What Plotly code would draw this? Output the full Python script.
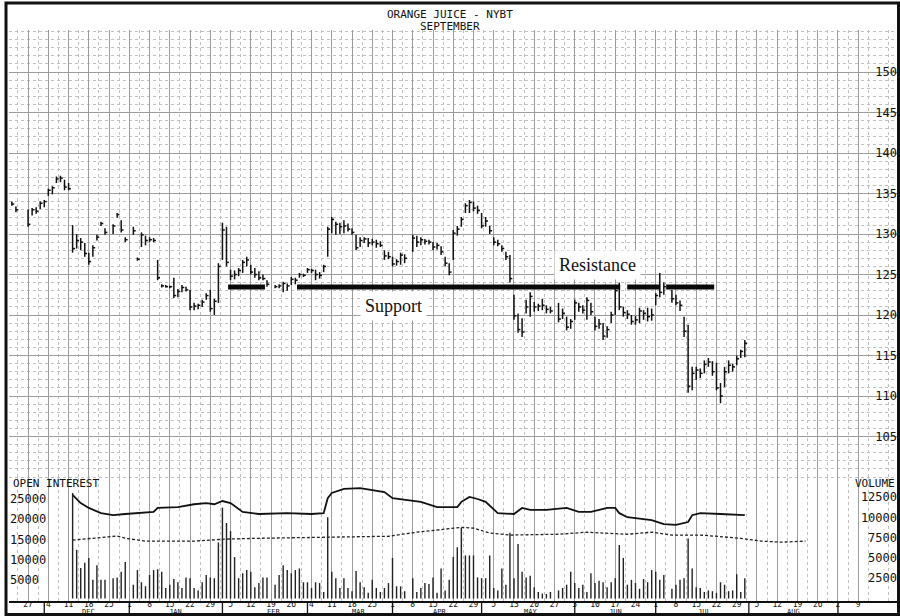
import pandas as pd
import plotly.graph_objects as go

# ---------------- data ----------------
week_starts = ["1995-11-20", "1995-11-27", "1995-12-04", "1995-12-11", "1995-12-18", "1995-12-25",
               "1996-01-01", "1996-01-08", "1996-01-15", "1996-01-22", "1996-01-29", "1996-02-05",
               "1996-02-12", "1996-02-19", "1996-02-26", "1996-03-04", "1996-03-11", "1996-03-18",
               "1996-03-25", "1996-04-01", "1996-04-08", "1996-04-15", "1996-04-22", "1996-04-29",
               "1996-05-06", "1996-05-13", "1996-05-20", "1996-05-27", "1996-06-03", "1996-06-10",
               "1996-06-17", "1996-06-24", "1996-07-01", "1996-07-08", "1996-07-15", "1996-07-22",
               "1996-07-29"]

# daily high / low / close, one row per week (Mon..Fri), None = no bar
price_high = [
    [None, 134.0, 133.4, None, None], [133.0, 133.2, 133.3, 134.0, 134.2], [135.6, 135.9, 137.1, 137.2, 136.7],
    [136.3, 131.1, 130.0, 129.5, 128.9], [127.7, 128.6, 129.9, 131.5, 130.7], [None, 131.2, 132.6, 131.7, 129.6],
    [None, 130.9, 127.1, 130.2, 129.8], [129.6, 129.5, 126.8, 123.8, 123.7], [123.6, 124.6, 123.2, 123.7, 123.5],
    [123.1, 121.5, 121.4, 121.9, 122.7], [123.1, 122.0, 126.4, 131.4, 130.9], [125.6, 125.5, 125.8, 126.8, 127.2],
    [126.2, 125.8, 125.4, 125.0, 124.3], [None, 123.7, 123.8, 124.1, 123.9], [124.7, 124.6, 125.2, 125.1, 125.8],
    [125.7, 125.6, 125.3, 126.2, 130.9], [132.1, 131.5, 131.4, 131.7, 131.3], [130.7, 129.9, 129.6, 129.6, 129.5],
    [129.4, 129.3, 129.1, 128.0, 127.8], [127.2, 126.9, 127.7, 127.5, None], [129.9, 129.8, 129.6, 129.4, 129.3],
    [129.0, 128.9, 128.5, 127.2, 126.4], [130.5, 131.0, 132.1, 133.8, 134.2], [134.0, 133.5, 132.6, 132.1, 131.0],
    [129.6, 129.3, 128.6, 127.8, 127.4], [122.5, 120.2, 119.6, 121.9, 122.8], [121.6, 121.4, 122.0, 121.2, 121.0],
    [None, 121.5, 120.8, 119.8, 119.5], [121.9, 121.5, 121.2, 122.2, 121.5], [119.8, 119.5, 119.0, 118.6, 120.4],
    [123.5, 124.0, 121.0, 120.6, 120.0], [119.9, 120.9, 120.6, 120.9, 120.8], [122.7, 125.2, 124.0, None, 123.1],
    [122.5, 121.8, 119.8, 118.8, 113.6], [113.6, 113.4, 114.4, 114.7, 114.3], [114.1, 111.6, 113.6, 114.4, 114.0],
    [115.0, 115.7, 116.9, None, None]]
price_low = [
    [None, 133.5, 132.7, None, None], [130.9, 132.3, 132.5, 133.1, 133.3], [134.7, 134.9, 136.3, 136.4, 135.4],
    [135.4, 127.7, 128.2, 128.0, 127.2], [126.2, 127.2, 129.2, 131.0, 129.9], [None, 130.0, 132.0, 130.2, 129.0],
    [None, 129.9, 126.7, 128.4, 128.6], [129.0, 129.0, 124.3, 123.4, 123.4], [123.3, 122.1, 122.2, 122.8, 122.9],
    [120.6, 120.6, 120.7, 121.0, 121.9], [120.4, 120.0, 121.5, 126.8, 126.0], [124.3, 124.4, 124.8, 125.2, 126.0],
    [125.0, 124.6, 124.3, 124.3, 123.5], [None, 123.3, 123.3, 122.8, 123.0], [123.7, 123.8, 124.6, 124.7, 125.2],
    [125.2, 124.3, 124.5, 125.3, 127.2], [130.1, 129.9, 130.0, 130.1, 130.3], [129.9, 128.0, 128.4, 128.9, 128.4],
    [128.6, 128.3, 128.4, 126.8, 126.9], [126.0, 126.1, 126.2, 126.4, None], [127.8, 128.4, 128.6, 128.7, 128.7],
    [128.0, 128.1, 127.4, 126.0, 124.9], [126.8, 129.8, 130.9, 132.6, 132.6], [132.8, 132.5, 130.7, 130.9, 130.0],
    [128.6, 128.5, 127.8, 126.8, 124.0], [119.4, 117.8, 117.3, 120.2, 119.8], [120.4, 120.5, 120.6, 120.2, 120.2],
    [None, 119.1, 119.5, 118.1, 118.3], [119.4, 120.4, 120.2, 119.4, 120.0], [118.1, 118.3, 116.9, 117.2, 119.0],
    [120.0, 120.6, 119.8, 119.5, 118.8], [118.8, 119.0, 119.4, 119.2, 119.3], [121.2, 122.2, 122.5, None, 121.5],
    [121.2, 120.5, 117.3, 110.4, 110.7], [112.0, 112.2, 112.8, 113.6, 112.5], [110.7, 109.1, 111.1, 112.8, 113.0],
    [113.8, 114.7, 114.8, None, None]]
price_close = [
    [None, 133.7, 133.0, None, None], [131.2, 133.0, 132.8, 133.8, 134.0], [135.4, 135.7, 136.8, 136.9, 135.8],
    [135.6, 128.2, 129.2, 129.0, 127.6], [126.6, 128.3, 129.6, 131.3, 130.2], [None, 131.0, 132.4, 130.5, 129.3],
    [None, 130.4, 126.9, 129.9, 129.2], [129.3, 129.2, 124.6, 123.6, 123.5], [123.5, 122.4, 122.9, 123.4, 123.1],
    [121.0, 121.1, 121.2, 121.6, 122.4], [120.8, 121.7, 126.0, 130.5, 126.5], [124.8, 125.0, 125.5, 126.5, 126.8],
    [125.3, 125.0, 124.6, 124.5, 123.8], [None, 123.5, 123.6, 123.9, 123.6], [124.4, 124.3, 125.0, 124.9, 125.6],
    [125.5, 125.0, 124.9, 126.0, 130.6], [131.8, 131.2, 130.9, 131.0, 130.6], [130.2, 128.3, 129.2, 129.4, 128.9],
    [129.0, 128.8, 128.6, 127.3, 127.2], [126.3, 126.6, 127.4, 127.0, None], [129.5, 129.0, 129.3, 129.1, 129.0],
    [128.4, 128.6, 127.8, 126.4, 125.3], [130.1, 130.6, 131.8, 133.5, 133.9], [133.2, 132.9, 131.0, 131.6, 130.4],
    [129.0, 128.8, 128.2, 127.2, 124.5], [119.9, 118.2, 117.9, 121.0, 122.3], [121.0, 121.1, 121.2, 120.7, 120.5],
    [None, 119.5, 120.2, 118.5, 119.2], [121.5, 121.0, 120.6, 121.8, 120.4], [118.6, 118.9, 117.4, 118.2, 120.0],
    [123.0, 121.0, 120.3, 120.1, 119.2], [119.4, 120.5, 120.2, 119.8, 120.0], [122.4, 122.8, 123.5, None, 122.0],
    [121.5, 121.2, 118.0, 111.2, 112.8], [113.2, 112.8, 113.9, 114.2, 113.0], [111.0, 110.0, 113.0, 113.8, 113.6],
    [114.6, 115.5, 116.5, None, None]]

volume = [
    [None] * 5, [None] * 5, [None] * 5,
    [None, 13000, 6000, 3750, 4400], [5000, 2300, 4100, 2300, 2300], [None, 2500, 2600, 3300, 4500],
    [None, 1700, 3500, 2000, 1500], [2900, 3500, 3600, 3300, 1300], [1700, 2400, 2000, 1300, 2600],
    [2500, 1300, 1000, 2000, 2900], [2600, 2500, 6900, 11200, 9300], [8300, 5100, 2500, 3100, 3500],
    [3300, 1400, 1900, 2600, 2600], [None, 1700, 2900, 4100, 3500], [3100, 3500, 3700, 2000, 2000],
    [1300, 2000, 1900, 800, 10000], [3300, 2500, 1300, 2500, 1300], [900, 3400, 2000, 1400, 700],
    [2300, 1300, 800, 1300, 1900], [5000, 1500, 1500, 900, None], [2500, 800, 1300, 1900, 1800],
    [2600, 700, 3700, 1000, 2300], [5100, 6300, 8700, 5300, 5300], [5300, 2600, 2500, 2500, 5300],
    [1300, 1000, 3700, 1700, 8100], [2500, 6700, 3300, 2600, 2800], [1400, 800, 600, 550, 800],
    [None, 1000, 1300, 1700, 3300], [1900, 1300, 1700, 800, 3100], [1900, 2200, 2000, 1400, 2000],
    [2500, 6600, 5000, 1700, 2300], [1900, 1200, 2400, 2000, 3500], [3300, 2300, 2900, None, 1200],
    [1700, 2300, 2500, 7400, 3700], [1400, 1300, 800, 1000, 900], [700, 2000, 1700, 900, 1000],
    [3000, 800, 2500, None, None]]

oi_dates = ["1995-12-12", "1995-12-14", "1995-12-18", "1995-12-21", "1995-12-26", "1995-12-29", "1996-01-09",
            "1996-01-10", "1996-01-17", "1996-01-23", "1996-01-26", "1996-01-30", "1996-02-01", "1996-02-05",
            "1996-02-08", "1996-02-14", "1996-02-23", "1996-03-04", "1996-03-07", "1996-03-08", "1996-03-11",
            "1996-03-14", "1996-03-20", "1996-03-25", "1996-03-28", "1996-04-01", "1996-04-04", "1996-04-10",
            "1996-04-16", "1996-04-23", "1996-04-24", "1996-04-26", "1996-04-30", "1996-05-02", "1996-05-07",
            "1996-05-13", "1996-05-15", "1996-05-17", "1996-05-23", "1996-05-30", "1996-06-04", "1996-06-07",
            "1996-06-13", "1996-06-17", "1996-06-18", "1996-06-20", "1996-06-28", "1996-07-03", "1996-07-08",
            "1996-07-11", "1996-07-12", "1996-07-16", "1996-07-23", "1996-07-31"]
oi_values = [26000, 24000, 22800, 21500, 21000, 21300, 21800, 22800, 23000, 23700, 24000, 23700, 24500, 24000,
             21800, 21300, 21500, 21300, 21500, 25200, 26500, 27500, 27700, 27200, 26700, 25200, 24750, 24300,
             23000, 23000, 24300, 25500, 25000, 24300, 21500, 21300, 22800, 22300, 22300, 22800, 21800, 21800,
             22800, 22800, 21500, 20500, 19800, 18800, 18600, 19300, 21000, 21500, 21300, 21000]

dash_dates = ["1995-12-12", "1995-12-19", "1995-12-27", "1995-12-29", "1996-01-05", "1996-01-23", "1996-02-02",
              "1996-02-14", "1996-03-07", "1996-03-15", "1996-03-29", "1996-04-09", "1996-04-16", "1996-04-24",
              "1996-04-29", "1996-05-03", "1996-05-10", "1996-05-28", "1996-06-06", "1996-06-20", "1996-06-28",
              "1996-07-05", "1996-07-16", "1996-07-30", "1996-08-06", "1996-08-13", "1996-08-21"]
dash_values = [14850, 15300, 15850, 15300, 14600, 14600, 15100, 15300, 15600, 15600, 15800, 16800, 17300, 18000,
               17800, 16600, 16100, 16300, 16800, 16300, 16800, 16100, 16100, 15300, 14600, 14350, 14600]

# hand-drawn support / resistance line
sr_level = 123.45
sr_starts = ["1996-02-02 09:30", "1996-02-27 10:00", "1996-06-19 23:00", "1996-07-03 14:00"]
sr_ends = ["1996-02-15 12:00", "1996-06-18 05:30", "1996-07-02 02:00", "1996-07-19 10:30"]

x_tick_dates = ["1995-11-27", "1995-12-04", "1995-12-11", "1995-12-18", "1995-12-25", "1996-01-01", "1996-01-08",
                "1996-01-15", "1996-01-22", "1996-01-29", "1996-02-05", "1996-02-12", "1996-02-19", "1996-02-26",
                "1996-03-04", "1996-03-11", "1996-03-18", "1996-03-25", "1996-04-01", "1996-04-08", "1996-04-15",
                "1996-04-22", "1996-04-29", "1996-05-06", "1996-05-13", "1996-05-20", "1996-05-27", "1996-06-03",
                "1996-06-10", "1996-06-17", "1996-06-24", "1996-07-01", "1996-07-08", "1996-07-15", "1996-07-22",
                "1996-07-29", "1996-08-05", "1996-08-12", "1996-08-19", "1996-08-26", "1996-09-02", "1996-09-09"]
x_tick_text = ["27", "4", "11", "18", "25", "1", "8", "15", "22", "29", "5", "12", "19", "26", "4", "11", "18",
               "25", "1", "8", "15", "22", "29", "5", "13", "20", "27", "3", "10", "17", "24", "1", "8", "15",
               "22", "29", "5", "12", "19", "26", "2", "9"]
month_names = ["DEC", "JAN", "FEB", "MAR", "APR", "MAY", "JUN", "JUL", "AUG"]
month_label_dates = ["1995-12-18", "1996-01-16 12:00", "1996-02-19 12:00", "1996-03-19 12:00",
                     "1996-04-16 12:00", "1996-05-17", "1996-06-17", "1996-07-17", "1996-08-16"]
month_starts = ["1995-12-01", "1996-01-01", "1996-02-01", "1996-03-01", "1996-04-01", "1996-05-01",
                "1996-06-03", "1996-07-01", "1996-08-01", "1996-09-02"]

price_ticks = [105, 110, 115, 120, 125, 130, 135, 140, 145, 150]
oi_ticks = [5000, 10000, 15000, 20000, 25000]
vol_ticks = [2500, 5000, 7500, 10000, 12500]

# ---------------- build marks ----------------
MONO = "DejaVu Sans Mono"
bx, by = [], []
vx, vy = [], []
for w, ws in enumerate(week_starts):
    for i in range(5):
        d = pd.Timestamp(ws) + pd.Timedelta(days=i)
        h = price_high[w][i]
        if h is not None:
            bx += [d, d, None, d, d + pd.Timedelta(hours=14), None]
            by += [price_low[w][i], h, None, price_close[w][i], price_close[w][i], None]
        v = volume[w][i]
        if v is not None:
            vx += [d, d, None]
            vy += [0, v, None]

sx, sy = [], []
for s, e in zip(sr_starts, sr_ends):
    sx += [s, e, None]
    sy += [sr_level, sr_level, None]

fig = go.Figure()
fig.add_trace(go.Scatter(x=bx, y=by, mode="lines", line=dict(color="#111", width=1.5),
                         hoverinfo="skip", showlegend=False, yaxis="y"))
fig.add_trace(go.Scatter(x=sx, y=sy, mode="lines", line=dict(color="#0a0a0a", width=5),
                         hoverinfo="skip", showlegend=False, yaxis="y"))
fig.add_trace(go.Scatter(x=vx, y=vy, mode="lines", line=dict(color="#222", width=1.4),
                         hoverinfo="skip", showlegend=False, yaxis="y3"))
fig.add_trace(go.Scatter(x=oi_dates, y=oi_values, mode="lines", line=dict(color="#111", width=1.8),
                         showlegend=False, yaxis="y2"))
fig.add_trace(go.Scatter(x=dash_dates, y=dash_values, mode="lines",
                         line=dict(color="#222", width=1.3, dash="3px,2px"), showlegend=False, yaxis="y2"))

minor_x = [d + pd.Timedelta(hours=60) for d in pd.date_range("1995-11-13", "1996-09-16", freq="W-MON")]

GRID = "#9c9c9c"
MINOR = "#c0c0c0"
LOWER_TOP = (601 - 478) / 571
LABEL_FONT = dict(family=MONO, size=12, color="#111")
HEAD_FONT = dict(family=MONO, size=11, color="#111")

fig.update_layout(
    width=900, height=616,
    margin=dict(l=9, r=3, t=30, b=15),
    paper_bgcolor="white", plot_bgcolor="white",
    showlegend=False,
    font=dict(family=MONO, color="#111"),
    xaxis=dict(
        type="date",
        range=["1995-11-20 07:00", "1996-09-20 14:00"],
        rangebreaks=[dict(bounds=["sat", "mon"])],
        tickmode="array", tickvals=x_tick_dates, ticktext=x_tick_text,
        tickfont=dict(family=MONO, size=8, color="#111"),
        ticklabelstandoff=-5,
        ticks="", showline=True, linecolor="#111", linewidth=1.5,
        showgrid=True, gridcolor=GRID, gridwidth=1,
        minor=dict(tickmode="array", tickvals=minor_x, showgrid=True, gridcolor=MINOR, griddash="dot"),
        zeroline=False, fixedrange=True,
    ),
    # price scale: labels drawn just left of the right frame
    yaxis=dict(
        domain=[0, 1], range=[84.69, 155.19], side="left", anchor="free", position=1,
        tickmode="array", tickvals=price_ticks, ticktext=[str(v) for v in price_ticks],
        tickfont=LABEL_FONT, ticks="",
        showgrid=True, gridcolor=GRID, gridwidth=1,
        minor=dict(dtick=1, showgrid=True, gridcolor=MINOR, griddash="dot"),
        zeroline=False, showline=False,
    ),
    # open interest scale: labels just right of the left frame
    yaxis2=dict(
        domain=[0, LOWER_TOP], range=[-185, 30184], side="right", anchor="free", position=0,
        tickmode="array", tickvals=oi_ticks, ticktext=[str(v) for v in oi_ticks],
        tickfont=LABEL_FONT, ticks="",
        showgrid=False, zeroline=False, showline=False,
    ),
    # volume scale
    yaxis3=dict(
        domain=[0, LOWER_TOP], range=[-308, 14840], side="left", anchor="free", position=1,
        overlaying="y2",
        tickmode="array", tickvals=vol_ticks, ticktext=[str(v) for v in vol_ticks],
        tickfont=LABEL_FONT, ticks="",
        showgrid=False, zeroline=False, showline=False,
    ),
)

ann = [
    dict(text="ORANGE JUICE - NYBT", x=(450 - 9) / 888, y=(601 - 14) / 571, xref="paper", yref="paper",
         showarrow=False, font=HEAD_FONT, yanchor="middle"),
    dict(text="SEPTEMBER", x=(450 - 9) / 888, y=(601 - 27) / 571, xref="paper", yref="paper",
         showarrow=False, font=HEAD_FONT, yanchor="middle"),
    dict(text="OPEN INTEREST", x=(11 - 9) / 888, y=(601 - 483.5) / 571, xref="paper", yref="paper",
         xanchor="left", yanchor="middle", showarrow=False, font=HEAD_FONT),
    dict(text="VOLUME", x=1.0, y=(601 - 483.5) / 571, xref="paper", yref="paper",
         xanchor="right", yanchor="middle", showarrow=False, font=HEAD_FONT),
    dict(text="Resistance", x="1996-06-10 13:00", y=126.17, xref="x", yref="y", showarrow=False,
         bgcolor="white", borderpad=4, font=dict(family="Liberation Serif", size=18, color="#111")),
    dict(text="Support", x="1996-04-01 03:30", y=121.1, xref="x", yref="y", showarrow=False,
         bgcolor="white", borderpad=4, font=dict(family="Liberation Serif", size=18, color="#111")),
]
for name, d in zip(month_names, month_label_dates):
    ann.append(dict(text=name, x=d, y=-(611.5 - 601) / 571, xref="x", yref="paper", showarrow=False,
                    yanchor="middle", font=dict(family=MONO, size=7, color="#111")))
fig.update_layout(annotations=ann)

shapes = []
for d in month_starts:
    shapes.append(dict(type="line", x0=d, x1=d, xref="x", yref="paper",
                       y0=-(602 - 601) / 571, y1=-(613 - 601) / 571, line=dict(color="#111", width=1.3)))
# outer frame
shapes.append(dict(type="rect", xref="paper", yref="paper",
                   x0=(6 - 9) / 888, x1=(898.5 - 9) / 888, y0=(601 - 614.5) / 571, y1=(601 - 3) / 571,
                   line=dict(color="#111", width=3), fillcolor="rgba(0,0,0,0)", layer="above"))
fig.update_layout(shapes=shapes)

fig.write_html("out.html", config={"displayModeBar": False},
               post_script="document.body.style.margin='0';document.body.style.overflow='hidden';")
